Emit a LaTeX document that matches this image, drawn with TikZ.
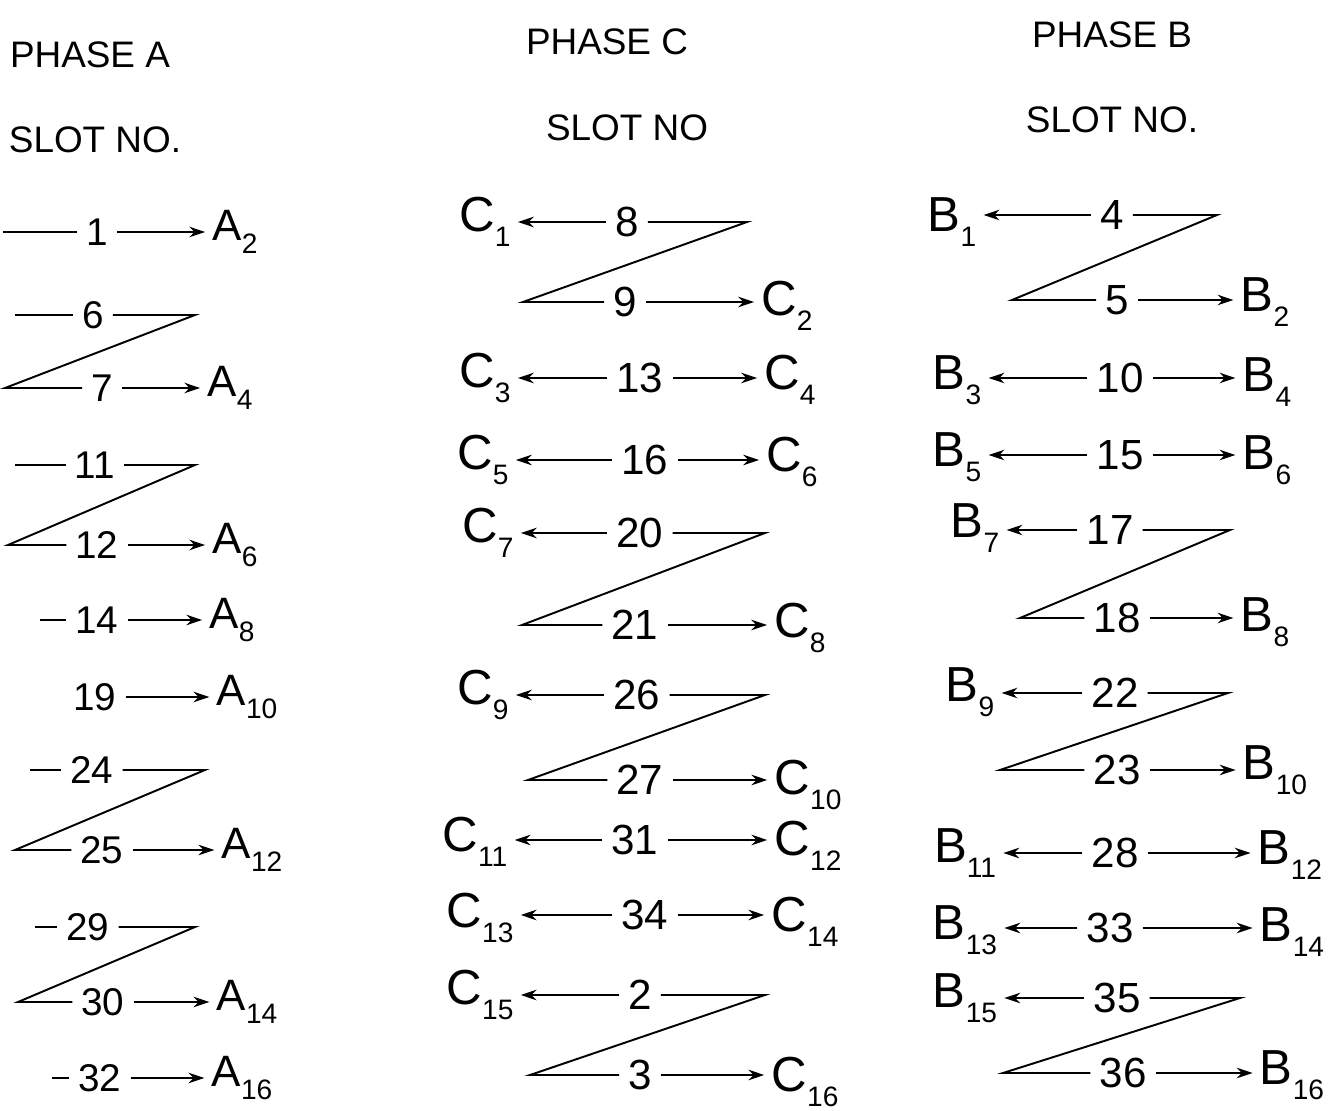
\documentclass[tikz,border=0pt]{standalone}
\usepackage{fontspec}
\setmainfont{Liberation Sans}
\usetikzlibrary{arrows.meta}
\newcommand{\lbl}[2]{#1\raisebox{-0.3em}{\fontsize{16}{16}\selectfont #2}}
\tikzset{
  num/.style={inner sep=5pt, font=\fontsize{24}{24}\selectfont},
  numa/.style={inner sep=5pt, font=\fontsize{22}{22}\selectfont},
  lab/.style={inner sep=4pt, font=\fontsize{28}{28}\selectfont},
  laba/.style={inner sep=4pt, font=\fontsize{25}{25}\selectfont},
  head/.style={font=\fontsize{21}{21}\selectfont},
  wire/.style={line width=1.1pt},
  tip/.style={wire,-{Stealth[length=9pt,width=6pt]}},
}
\begin{document}
\begin{tikzpicture}[x=0.02cm,y=-0.02cm]
\useasboundingbox (0,0) rectangle (1330,1111);
\fill[white] (0,0) rectangle (1330,1111);

% headings
\node[head] (hA) at (90,55) {PHASE A};
\node[head] (sA) at (95,140) {SLOT NO.};
\node[head] (hC) at (607,42) {PHASE C};
\node[head] (sC) at (627,128) {SLOT NO};
\node[head] (hB) at (1112,35) {PHASE B};
\node[head] (sB) at (1112,120) {SLOT NO.};

% ---------------- Phase A ----------------
\node[numa] (a1) at (97,232) {1};
\node[numa] (a6) at (93,315) {6};
\node[numa] (a7) at (102,388) {7};
\node[numa] (a11) at (95,465) {11};
\node[numa] (a12) at (97,545) {12};
\node[numa] (a14) at (97,620) {14};
\node[numa] (a19) at (95,697) {19};
\node[numa] (a24) at (92,770) {24};
\node[numa] (a25) at (102,850) {25};
\node[numa] (a29) at (88,927) {29};
\node[numa] (a30) at (103,1002) {30};
\node[numa] (a32) at (100,1078) {32};

\node[laba] (A2) at (235,232) {\lbl{A}{2}};
\node[laba] (A4) at (230,388) {\lbl{A}{4}};
\node[laba] (A6) at (235,545) {\lbl{A}{6}};
\node[laba] (A8) at (232,620) {\lbl{A}{8}};
\node[laba] (A10) at (247,697) {\lbl{A}{10}};
\node[laba] (A12) at (252,850) {\lbl{A}{12}};
\node[laba] (A14) at (247,1002) {\lbl{A}{14}};
\node[laba] (A16) at (242,1078) {\lbl{A}{16}};

\coordinate (sa1) at (3,232);
\coordinate (sa6) at (15,315);
\coordinate (sa11) at (15,465);
\coordinate (sa14) at (40,620);
\coordinate (sa24) at (30,770);
\coordinate (sa29) at (35,927);
\coordinate (sa32) at (52,1078);
\coordinate (za1) at (195,315);
\coordinate (za2) at (5,388);
\coordinate (za3) at (195,465);
\coordinate (za4) at (8,545);
\coordinate (za5) at (205,770);
\coordinate (za6) at (15,850);
\coordinate (za7) at (195,927);
\coordinate (za8) at (18,1002);

\draw[wire] (sa1) -- (a1.west);
\draw[wire] (sa6) -- (a6.west);
\draw[wire] (sa11) -- (a11.west);
\draw[wire] (sa14) -- (a14.west);
\draw[wire] (sa24) -- (a24.west);
\draw[wire] (sa29) -- (a29.west);
\draw[wire] (sa32) -- (a32.west);

\draw[tip] (a1.east) -- (a1.east -| A2.west);
\draw[wire] (a6.east) -- (za1) -- (za2) -- (a7.west);
\draw[tip] (a7.east) -- (a7.east -| A4.west);
\draw[wire] (a11.east) -- (za3) -- (za4) -- (a12.west);
\draw[tip] (a12.east) -- (a12.east -| A6.west);
\draw[tip] (a14.east) -- (a14.east -| A8.west);
\draw[tip] (a19.east) -- (a19.east -| A10.west);
\draw[wire] (a24.east) -- (za5) -- (za6) -- (a25.west);
\draw[tip] (a25.east) -- (a25.east -| A12.west);
\draw[wire] (a29.east) -- (za7) -- (za8) -- (a30.west);
\draw[tip] (a30.east) -- (a30.east -| A14.west);
\draw[tip] (a32.east) -- (a32.east -| A16.west);

% ---------------- Phase C ----------------
\node[num] (c8) at (627,222) {8};
\node[num] (c9) at (625,302) {9};
\node[num] (c13) at (640,378) {13};
\node[num] (c16) at (645,460) {16};
\node[num] (c20) at (640,533) {20};
\node[num] (c21) at (635,625) {21};
\node[num] (c26) at (637,695) {26};
\node[num] (c27) at (640,780) {27};
\node[num] (c31) at (635,840) {31};
\node[num] (c34) at (645,915) {34};
\node[num] (c2) at (640,995) {2};
\node[num] (c3) at (640,1075) {3};

\node[lab] (C1) at (485,222) {\lbl{C}{1}};
\node[lab] (C2) at (787,306) {\lbl{C}{2}};
\node[lab] (C3) at (485,378) {\lbl{C}{3}};
\node[lab] (C4) at (790,380) {\lbl{C}{4}};
\node[lab] (C5) at (483,460) {\lbl{C}{5}};
\node[lab] (C6) at (792,462) {\lbl{C}{6}};
\node[lab] (C7) at (488,533) {\lbl{C}{7}};
\node[lab] (C8) at (800,628) {\lbl{C}{8}};
\node[lab] (C9) at (483,695) {\lbl{C}{9}};
\node[lab] (C10) at (808,785) {\lbl{C}{10}};
\node[lab] (C11) at (475,842) {\lbl{C}{11}};
\node[lab] (C12) at (808,846) {\lbl{C}{12}};
\node[lab] (C13) at (480,918) {\lbl{C}{13}};
\node[lab] (C14) at (805,922) {\lbl{C}{14}};
\node[lab] (C15) at (480,995) {\lbl{C}{15}};
\node[lab] (C16) at (805,1082) {\lbl{C}{16}};

\coordinate (zc1) at (747,222);
\coordinate (zc2) at (523,302);
\coordinate (zc3) at (765,533);
\coordinate (zc4) at (522,625);
\coordinate (zc5) at (765,695);
\coordinate (zc6) at (528,780);
\coordinate (zc7) at (765,995);
\coordinate (zc8) at (530,1075);

\draw[tip] (c8.west) -- (c8.west -| C1.east);
\draw[wire] (c8.east) -- (zc1) -- (zc2) -- (c9.west);
\draw[tip] (c9.east) -- (c9.east -| C2.west);
\draw[tip] (c13.west) -- (c13.west -| C3.east);
\draw[tip] (c13.east) -- (c13.east -| C4.west);
\draw[tip] (c16.west) -- (c16.west -| C5.east);
\draw[tip] (c16.east) -- (c16.east -| C6.west);
\draw[tip] (c20.west) -- (c20.west -| C7.east);
\draw[wire] (c20.east) -- (zc3) -- (zc4) -- (c21.west);
\draw[tip] (c21.east) -- (c21.east -| C8.west);
\draw[tip] (c26.west) -- (c26.west -| C9.east);
\draw[wire] (c26.east) -- (zc5) -- (zc6) -- (c27.west);
\draw[tip] (c27.east) -- (c27.east -| C10.west);
\draw[tip] (c31.west) -- (c31.west -| C11.east);
\draw[tip] (c31.east) -- (c31.east -| C12.west);
\draw[tip] (c34.west) -- (c34.west -| C13.east);
\draw[tip] (c34.east) -- (c34.east -| C14.west);
\draw[tip] (c2.west) -- (c2.west -| C15.east);
\draw[wire] (c2.east) -- (zc7) -- (zc8) -- (c3.west);
\draw[tip] (c3.east) -- (c3.east -| C16.west);

% ---------------- Phase B ----------------
\node[num] (b4) at (1112,215) {4};
\node[num] (b5) at (1117,300) {5};
\node[num] (b10) at (1120,378) {10};
\node[num] (b15) at (1120,455) {15};
\node[num] (b17) at (1110,530) {17};
\node[num] (b18) at (1117,618) {18};
\node[num] (b22) at (1115,693) {22};
\node[num] (b23) at (1117,770) {23};
\node[num] (b28) at (1115,853) {28};
\node[num] (b33) at (1110,928) {33};
\node[num] (b35) at (1117,998) {35};
\node[num] (b36) at (1123,1073) {36};

\node[lab] (B1) at (952,222) {\lbl{B}{1}};
\node[lab] (B2) at (1265,302) {\lbl{B}{2}};
\node[lab] (B3) at (957,380) {\lbl{B}{3}};
\node[lab] (B4) at (1267,382) {\lbl{B}{4}};
\node[lab] (B5) at (957,457) {\lbl{B}{5}};
\node[lab] (B6) at (1267,460) {\lbl{B}{6}};
\node[lab] (B7) at (975,528) {\lbl{B}{7}};
\node[lab] (B8) at (1265,622) {\lbl{B}{8}};
\node[lab] (B9) at (970,692) {\lbl{B}{9}};
\node[lab] (B10) at (1275,770) {\lbl{B}{10}};
\node[lab] (B11) at (965,853) {\lbl{B}{11}};
\node[lab] (B12) at (1290,855) {\lbl{B}{12}};
\node[lab] (B13) at (965,930) {\lbl{B}{13}};
\node[lab] (B14) at (1292,932) {\lbl{B}{14}};
\node[lab] (B15) at (965,998) {\lbl{B}{15}};
\node[lab] (B16) at (1292,1075) {\lbl{B}{16}};

\coordinate (zb1) at (1217,215);
\coordinate (zb2) at (1012,300);
\coordinate (zb3) at (1230,530);
\coordinate (zb4) at (1020,618);
\coordinate (zb5) at (1228,693);
\coordinate (zb6) at (1000,770);
\coordinate (zb7) at (1240,998);
\coordinate (zb8) at (1003,1073);

\draw[tip] (b4.west) -- (b4.west -| B1.east);
\draw[wire] (b4.east) -- (zb1) -- (zb2) -- (b5.west);
\draw[tip] (b5.east) -- (b5.east -| B2.west);
\draw[tip] (b10.west) -- (b10.west -| B3.east);
\draw[tip] (b10.east) -- (b10.east -| B4.west);
\draw[tip] (b15.west) -- (b15.west -| B5.east);
\draw[tip] (b15.east) -- (b15.east -| B6.west);
\draw[tip] (b17.west) -- (b17.west -| B7.east);
\draw[wire] (b17.east) -- (zb3) -- (zb4) -- (b18.west);
\draw[tip] (b18.east) -- (b18.east -| B8.west);
\draw[tip] (b22.west) -- (b22.west -| B9.east);
\draw[wire] (b22.east) -- (zb5) -- (zb6) -- (b23.west);
\draw[tip] (b23.east) -- (b23.east -| B10.west);
\draw[tip] (b28.west) -- (b28.west -| B11.east);
\draw[tip] (b28.east) -- (b28.east -| B12.west);
\draw[tip] (b33.west) -- (b33.west -| B13.east);
\draw[tip] (b33.east) -- (b33.east -| B14.west);
\draw[tip] (b35.west) -- (b35.west -| B15.east);
\draw[wire] (b35.east) -- (zb7) -- (zb8) -- (b36.west);
\draw[tip] (b36.east) -- (b36.east -| B16.west);
\end{tikzpicture}
\end{document}
